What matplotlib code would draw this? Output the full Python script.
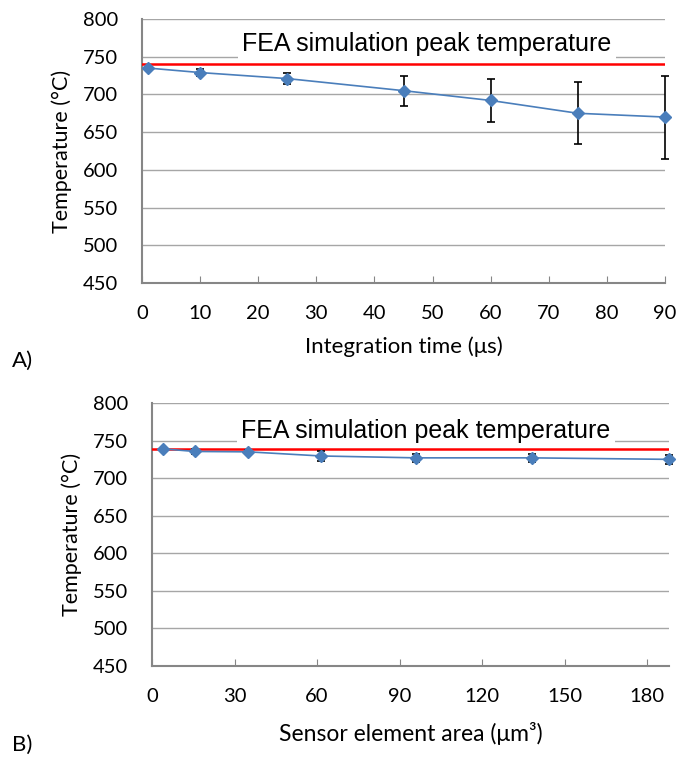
import matplotlib
matplotlib.use('Agg')
import matplotlib.pyplot as plt

# panel A: integration time
time_us = [1, 10, 25, 45, 60, 75, 90]
temp_a = [735, 729, 721, 705, 692, 675, 670]
err_a = [2, 4.4, 7.5, 20, 29, 41, 55]

# panel B: sensor element area
area_um = [4, 15.5, 35, 61.5, 96, 138, 188]
temp_b = [739, 735.5, 735, 729.5, 727, 727, 725]
err_b = [1.5, 3, 3, 7, 5, 5, 6]

fea_peak_a = 740
fea_peak_b = 738.5
yticks = [450, 500, 550, 600, 650, 700, 750, 800]

plt.rcParams['font.family'] = ['Lato', 'DejaVu Sans']

W, H = 689, 758
fig = plt.figure(figsize=(W / 100, H / 100), dpi=100)

BLUE = '#4A7EBB'
GRID = '#A6A6A6'
SPINE = '#868686'


def setup(ax, xlim, xticks, xlabel, xlabel_size, xlabel_pad):
    ax.set_xlim(*xlim)
    ax.set_ylim(450, 800)
    ax.set_yticks(yticks)
    ax.set_xticks(xticks)
    ax.grid(axis='y', color=GRID, linewidth=1.0)
    ax.set_axisbelow(True)
    for s in ['top', 'right']:
        ax.spines[s].set_visible(False)
    for s in ['left', 'bottom']:
        ax.spines[s].set_color(SPINE)
        ax.spines[s].set_linewidth(1.5)
    ax.tick_params(axis='y', length=0, pad=17, labelsize=14.5)
    ax.tick_params(axis='x', direction='in', length=5, color=SPINE,
                   pad=16, labelsize=14.5)
    ax.set_ylabel('Temperature (°C)', fontsize=15.5, labelpad=8)
    ax.set_xlabel(xlabel, fontsize=xlabel_size, labelpad=xlabel_pad)


def draw(ax, x, y, e, peak, tx, ty):
    ax.axhline(peak, color='#FF0000', linewidth=1.8, zorder=3)
    ax.errorbar(x, y, yerr=e, color=BLUE, ecolor='black', elinewidth=1.2,
                capsize=3, capthick=1.2, marker='D', markersize=6,
                linewidth=1.2, zorder=4, clip_on=False)
    ax.text(tx, ty, 'FEA simulation peak temperature', transform=ax.transAxes,
            ha='center', va='center', fontsize=18, family='Liberation Sans',
            bbox=dict(facecolor='white', edgecolor='none', pad=3), zorder=2)


ax1 = fig.add_axes([142 / W, 1 - 283 / H, (665 - 142) / W, (283 - 19) / H])
setup(ax1, (0, 90), range(0, 91, 10), 'Integration time (μs)', 16, 10)
draw(ax1, time_us, temp_a, err_a, fea_peak_a, 0.545, 0.905)

ax2 = fig.add_axes([152 / W, 1 - 666 / H, (669 - 152) / W, (666 - 403) / H])
setup(ax2, (0, 188), range(0, 181, 30), 'Sensor element area (μm³)', 16.5, 12)
draw(ax2, area_um, temp_b, err_b, fea_peak_b, 0.53, 0.895)

fig.text(12 / W, 1 - 361 / H, 'A)', fontsize=16, va='center', ha='left')
fig.text(12 / W, 1 - 745 / H, 'B)', fontsize=16, va='center', ha='left')

fig.savefig('out.png', dpi=100)
